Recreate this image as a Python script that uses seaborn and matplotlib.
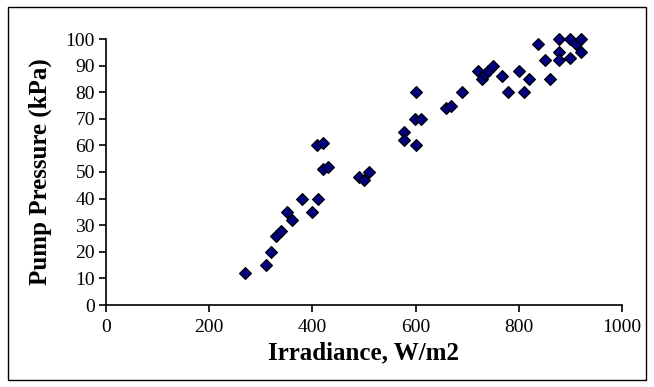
import matplotlib
matplotlib.use("Agg")
import matplotlib.pyplot as plt
import seaborn as sns
import pandas as pd
from matplotlib.patches import Rectangle

irradiance = [270, 310, 320, 330, 340, 350, 360, 380, 400, 410,
              408, 420, 420, 430, 490, 500, 510, 578, 578, 600,
              600, 598, 610, 659, 669, 689, 720, 728, 735, 740,
              750, 768, 780, 800, 810, 820, 838, 850, 860, 878,
              878, 878, 900, 900, 910, 920, 920]
pressure = [12, 15, 20, 26, 28, 35, 32, 40, 35, 40,
            60, 61, 51, 52, 48, 47, 50, 65, 62, 60,
            80, 70, 70, 74, 75, 80, 88, 85, 87, 88,
            90, 86, 80, 88, 80, 85, 98, 92, 85, 100,
            95, 92, 100, 93, 98, 100, 95]

x_ticks = [0, 200, 400, 600, 800, 1000]
y_ticks = [0, 10, 20, 30, 40, 50, 60, 70, 80, 90, 100]

df = pd.DataFrame({"Irradiance": irradiance, "Pressure": pressure})

sns.set_theme(style="ticks")
plt.rcParams["font.family"] = ["Liberation Serif", "DejaVu Serif"]
plt.rcParams["text.color"] = "black"
plt.rcParams["axes.labelcolor"] = "black"

fig = plt.figure(figsize=(6.54, 3.87), dpi=100)
ax = fig.add_axes([106/654, 1-305/387, (622-106)/654, (305-39)/387])

sns.scatterplot(data=df, x="Irradiance", y="Pressure", ax=ax, marker="D",
                s=36, color="#000080", edgecolor="black", linewidth=0.9,
                zorder=3, clip_on=False)

ax.set_xlim(0, 1000)
ax.set_ylim(0, 100)
ax.set_xticks(x_ticks)
ax.set_yticks(y_ticks)
ax.set_xticklabels([str(v) for v in x_ticks])
ax.set_yticklabels([str(v) for v in y_ticks])
ax.tick_params(axis="both", direction="out", length=5, width=1.2,
               colors="black", labelcolor="black", labelsize=14, pad=3)
ax.tick_params(axis="x", pad=5)
for side in ["top", "right"]:
    ax.spines[side].set_visible(False)
for side in ["left", "bottom"]:
    ax.spines[side].set_linewidth(1.2)
    ax.spines[side].set_color("black")

ax.set_xlabel("Irradiance, W/m2", fontsize=18, fontweight="bold", labelpad=4,
              color="black")
ax.set_ylabel("Pump Pressure (kPa)", fontsize=18, fontweight="bold", labelpad=10,
              color="black")

fig.patches.append(Rectangle((8/654, 7/387), (646-8)/654, (380-7)/387,
                             transform=fig.transFigure, fill=False,
                             edgecolor="black", linewidth=1.0))

fig.savefig("out.png", dpi=100)
